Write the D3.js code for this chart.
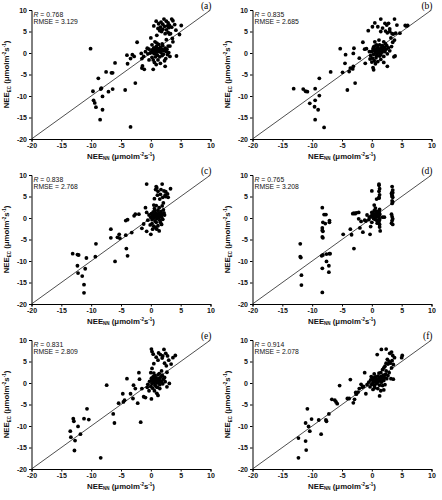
<!DOCTYPE html>
<html><head><meta charset="utf-8">
<script src="https://cdn.jsdelivr.net/npm/d3@7"></script>
<style>body{margin:0;background:#fff}</style></head>
<body>
<script>
const panelLabels = ["(a)","(b)","(c)","(d)","(e)","(f)"];
const rValues = ["0.768","0.835","0.838","0.765","0.831","0.914"];
const rmseValues = ["3.129","2.685","2.768","3.208","2.809","2.078"];
const axisTicks = [-20,-15,-10,-5,0,5,10];
const yTicks = [-20,-15,-10,-5,0,5,10];

const panelA = [[-10.1,1.0],[-6.0,-2.3],[-7.5,-4.4],[-6.6,-4.6],[-6.4,-4.6],[-8.8,-5.9],[-9.7,-8.9],[-8.3,-8.2],[-8.4,-8.4],[-7.1,-9.0],[-6.4,-8.4],[-8.1,-10.1],[-9.6,-11.0],[-9.4,-11.6],[-9.2,-12.6],[-8.1,-13.2],[-8.5,-15.5],[-3.4,-17.2],[-4.3,-8.6],[-2.6,-7.0],[-4.0,-0.5],[-3.9,-2.5],[-3.1,-0.4],[-3.4,-1.3],[-2.3,2.5],[-1.6,-0.1],[-1.5,-1.3],[-1.4,-3.0],[-1.5,-3.5],[-1.1,-3.8],[-2.8,-0.8],[-1.2,-0.8],[-0.9,0.3],[-0.6,1.1],[-0.3,0.9],
[0.1,0.3],[0.3,0.8],[0.5,1.2],[0.6,-0.2],[0.8,0.5],[0.9,1.5],[1.0,0.2],[1.1,-0.5],[1.2,1.0],[1.3,2.0],[1.4,0.6],[1.5,-0.9],[1.6,1.3],[1.7,0.1],[1.8,0.9],[2.0,1.7],[2.1,-0.3],[2.2,0.5],[2.4,1.1],[2.5,-1.3],[2.6,0.3],[2.7,0.9],[2.8,-0.4],[3.0,0.1],[3.2,-0.8],[0.2,-1.0],[0.4,-1.6],[0.6,-2.2],[0.0,3.5],[0.7,2.6],[1.0,2.3],[1.9,2.1],[0.4,-3.8],[0.9,-2.7],[1.6,-2.4],[2.4,-3.1],[4.3,-0.7],[3.2,1.6],[2.6,3.1],[-0.3,-1.6],[-0.1,0.0],[0.5,0.0],[0.8,-0.9],[1.3,0.4],[2.9,1.6],[3.7,2.6],[0.2,1.9],[1.2,-1.6],[2.0,0.7],[-0.5,-0.2],[1.0,1.0],[1.5,0.4],[2.3,-1.8],[0.7,0.9],[1.9,-0.6],[0.3,0.2],
[0.9,7.4],[1.3,6.8],[1.6,6.0],[2.0,5.5],[1.8,5.0],[2.3,6.2],[2.6,5.4],[2.9,4.8],[3.1,6.5],[3.5,7.9],[2.2,7.9],[2.6,7.4],[2.9,7.0],[3.7,7.5],[3.5,6.0],[4.0,6.6],[4.2,5.3],[4.8,4.3],[5.1,6.4],[1.2,5.7],[1.5,5.2],[2.4,4.5],[3.1,4.4],[1.0,4.1],[3.6,3.4],[0.5,6.3],[2.0,6.7],[3.0,5.9],[1.7,7.2],[3.3,4.5],[2.8,6.3]];

const panelB = [[-13.1,-8.3],[-11.5,-8.4],[-11.1,-8.9],[-10.8,-9.0],[-10.4,-11.7],[-9.5,-8.3],[-8.8,-5.9],[-8.8,-9.9],[-9.5,-11.0],[-9.6,-12.5],[-9.0,-13.2],[-9.5,-15.5],[-8.0,-17.3],[-6.9,-4.4],[-5.3,1.0],[-4.9,-4.5],[-4.5,-2.4],[-4.4,-0.4],[-4.1,-8.6],[-3.8,-4.3],[-3.6,-3.5],[-3.2,-3.7],[-3.1,-3.1],[-3.1,-0.1],[-3.0,1.1],[-2.8,-7.0],[-2.1,-1.2],[-1.5,2.5],[-1.2,0.9],[-0.9,1.0],[-1.1,-2.4],[-0.6,5.2],
[0.5,7.0],[1.5,7.9],[2.2,6.9],[2.5,6.5],[3.0,5.6],[3.8,7.9],[4.2,6.5],[5.6,6.4],[6.0,6.4],[5.8,6.3],[2.6,4.7],[3.4,4.5],[3.6,4.4],[4.0,4.6],[1.0,6.1],[1.8,5.8],[2.3,5.1],[3.2,3.5],[1.5,5.0],[2.8,6.9],[0.1,6.1],[4.7,4.6],[3.8,3.0],[3.5,2.5],[3.0,5.0],
[3.9,-0.7],[3.7,-0.9],[2.6,-3.1],[0.3,-3.9],[0.2,-3.4],[0.0,-2.1],[-0.2,-0.6],[0.0,0.4],[0.2,1.0],[0.3,-0.3],[0.4,0.6],[0.5,1.6],[0.6,0.1],[0.7,0.9],[0.8,-0.6],[0.9,0.4],[1.0,1.3],[1.1,0.0],[1.2,0.8],[1.3,1.9],[1.4,0.5],[1.5,-0.4],[1.6,1.1],[1.7,0.2],[1.8,1.6],[1.9,0.7],[2.0,-0.8],[2.1,1.3],[2.2,0.3],[2.3,2.1],[2.4,0.9],[2.6,-0.2],[2.8,1.2],[3.0,0.5],[3.3,1.5],[0.1,-1.2],[0.4,-1.8],[0.7,-1.1],[1.0,-2.0],[1.5,-1.5],[2.0,-2.2],[0.5,2.6],[1.2,3.0],[2.0,2.6],[0.8,1.9],[-0.4,0.3],[0.6,-2.5],[1.3,-0.7],[0.3,1.4],[1.7,1.7],[2.5,1.7],[0.9,0.0],[-0.3,-1.4]];

const panelC = [[-13.1,-8.3],[-12.3,-8.5],[-12.1,-8.6],[-12.3,-11.1],[-12.2,-12.8],[-11.5,-13.5],[-11.0,-11.8],[-10.8,-9.3],[-11.2,-15.5],[-11.2,-17.4],[-9.3,-9.0],[-9.2,-6.0],[-6.7,-2.6],[-6.7,-4.6],[-6.0,-10.1],[-5.6,-4.5],[-5.2,-4.7],[-5.3,-3.8],[-4.2,-4.0],[-4.2,-0.6],[-3.9,-0.4],[-4.1,-7.1],[-3.9,-8.8],[-3.2,-3.4],[-2.8,0.5],[-2.6,0.9],[-2.0,0.9],[-1.5,-2.4],[-1.2,-1.4],[-0.7,7.9],[-0.9,2.4],[-0.7,1.3],[-0.7,-3.1],[0.0,-3.8],
[0.9,7.3],[1.9,7.9],[0.8,6.6],[1.2,6.2],[2.2,6.3],[2.5,6.1],[3.3,6.8],[1.6,5.5],[2.0,4.8],[2.9,4.8],[0.6,4.5],[1.1,5.3],[2.4,5.3],[2.8,5.6],[1.5,4.4],[1.9,2.8],[2.1,3.5],[0.5,3.0],[0.9,2.9],[1.7,6.6],[1.0,7.0],[2.5,5.0],
[2.3,0.7],[1.8,-1.5],[1.4,-3.0],[0.8,-2.2],[-0.3,0.7],[0.0,0.2],[0.1,1.0],[0.2,-0.4],[0.3,0.5],[0.4,1.4],[0.5,0.0],[0.6,0.8],[0.7,-0.7],[0.8,0.3],[0.9,1.1],[1.0,-0.2],[1.1,0.6],[1.2,1.8],[1.3,0.1],[1.4,1.0],[1.5,-0.5],[1.6,0.5],[1.7,1.5],[1.8,0.2],[1.9,0.9],[2.0,-0.3],[2.1,1.9],[0.2,-1.3],[0.5,-1.9],[0.9,-1.0],[1.2,-1.8],[0.6,2.2],[1.4,2.4],[-0.5,-0.5],[0.3,-2.6],[1.0,-2.6],[0.7,1.7],[1.6,-1.0],[0.4,0.1],[1.1,0.9],[2.2,1.2],[-0.1,-1.6]];

const panelD = [[-12.0,-6.0],[-12.0,-9.0],[-11.9,-9.2],[-11.8,-13.3],[-11.8,-15.6],
[-8.3,2.4],[-8.0,0.8],[-8.2,-1.0],[-8.3,-2.3],[-8.3,-2.9],[-8.2,-3.1],[-8.3,-4.4],[-8.2,-4.6],[-8.2,-8.6],[-8.4,-8.8],[-8.3,-11.7],[-8.3,-17.3],[-7.7,0.8],[-7.8,-1.3],
[-7.1,-0.6],[-7.1,-1.0],[-7.1,-8.3],[-7.0,-8.3],[-7.2,-11.1],[-7.2,-12.6],[-7.6,-8.4],[-7.6,-10.1],
[-4.8,-3.8],[-3.6,-2.6],[-3.4,-3.9],[-3.0,-7.1],[-3.2,1.0],[-3.0,1.1],[-2.8,1.0],[-2.6,1.2],[-2.2,-0.2],[-2.0,-2.3],[-2.2,1.3],[-1.8,-0.8],[-1.5,-3.3],[-1.2,-0.5],[-1.0,-0.7],[-0.8,0.7],[-0.5,-0.4],[-0.3,-3.8],[-0.2,-2.0],[0.0,6.3],[-0.1,0.5],[0.0,1.3],
[1.2,7.9],[1.2,7.6],[1.3,6.8],[1.2,6.2],[1.3,5.4],[1.2,4.8],[1.2,4.6],[1.3,2.0],[1.2,1.6],[1.3,1.0],[1.2,0.5],[1.2,0.1],[1.3,-0.4],[1.2,-0.9],[1.3,-1.5],[1.4,-3.0],[1.3,-2.1],[1.3,0.8],[1.2,1.4],
[0.3,0.6],[0.4,0.3],[0.5,0.9],[0.6,0.2],[0.7,0.7],[0.8,0.4],[0.9,1.1],[0.5,-0.3],[0.3,-0.1],[1.0,0.8],[0.7,1.6],[0.8,-0.5],[0.6,2.3],[0.4,3.0],[0.9,-1.2],[0.2,1.1],[0.5,0.5],[0.6,0.9],[0.9,0.3],[1.0,1.4],[0.4,1.7],[0.0,-1.0],[0.8,4.4],[2.1,0.2],[1.8,0.2],[-0.4,0.2],[0.1,0.6],[0.2,0.2],
[3.4,7.3],[3.5,6.5],[3.4,6.0],[3.3,5.7],[3.4,5.3],[3.5,4.8],[3.4,4.0],[3.5,3.7],[3.4,3.4],[3.3,0.9],[3.4,0.3],[3.5,-0.2],[3.4,-0.6],[3.3,-1.2],[3.5,-1.5],[3.4,5.0],[3.5,5.9]];

const panelE = [[-13.5,-11.2],[-13.4,-12.6],[-12.7,-13.4],[-12.8,-15.7],[-13.0,-8.3],[-12.9,-8.9],[-12.2,-10.1],[-11.8,-11.9],[-11.2,-8.3],[-10.7,-6.0],[-10.4,-8.5],[-7.4,-0.5],[-6.3,-7.2],[-6.1,-9.3],[-8.4,-17.4],[-5.4,-4.7],[-4.7,-2.5],[-4.6,-4.4],[-4.4,-4.0],[-4.0,1.0],[-3.4,-2.5],[-3.0,-3.6],[-2.9,-0.5],[-2.6,-1.3],[-2.2,-4.7],[-2.0,2.4],[-1.9,0.9],[-1.7,-9.1],[-1.5,-1.3],[-1.2,-3.2],[-0.9,-3.4],[-0.6,-1.0],[-0.3,-1.8],[0.1,-3.7],
[0.1,7.9],[0.2,7.3],[0.4,6.7],[1.3,7.0],[1.6,6.6],[2.2,7.8],[2.5,6.9],[2.8,6.3],[3.0,5.3],[3.7,5.9],[4.1,6.4],[1.9,5.8],[1.2,5.3],[0.5,4.5],[2.3,4.6],[2.6,4.0],[0.2,3.4],[0.0,2.4],[1.8,2.8],[3.4,4.4],[0.9,6.0],[2.0,6.3],
[3.1,-0.1],[2.7,-0.9],[1.5,-1.3],[1.0,-2.4],[1.2,-2.9],[2.3,1.3],[2.7,2.5],[-0.2,0.4],[0.1,1.1],[0.2,-0.2],[0.3,0.6],[0.4,1.5],[0.5,0.1],[0.6,0.9],[0.7,-0.5],[0.8,0.4],[0.9,1.2],[1.0,0.0],[1.1,0.7],[1.2,1.9],[1.3,0.2],[1.4,1.0],[1.5,-0.4],[1.6,0.5],[1.7,1.4],[1.8,0.3],[2.0,-0.2],[2.1,0.9],[0.3,-1.2],[0.6,-1.8],[0.9,-0.9],[0.5,2.3],[1.4,2.2],[-0.5,-0.3],[0.7,1.7],[1.9,1.8],[0.4,0.3],[0.8,1.0],[1.1,-1.0],[2.4,0.3],[0.0,-0.8],[0.6,0.5],[1.0,0.5],[0.2,0.8]];

const panelF = [[-12.3,-17.4],[-12.3,-12.8],[-11.1,-13.5],[-11.0,-15.6],[-11.1,-9.3],[-10.8,-6.0],[-10.6,-10.1],[-10.4,-11.2],[-10.1,-8.4],[-8.9,-8.6],[-8.5,-11.9],[-7.7,-8.6],[-7.6,-8.9],[-7.2,-7.2],[-6.7,-3.8],[-6.2,-4.0],[-6.0,-4.4],[-5.8,-4.8],[-5.4,-0.6],[-4.1,-3.6],[-3.8,-3.6],[-3.6,0.8],[-3.1,-4.6],[-2.9,-3.8],[-2.7,-2.2],[-2.6,-2.6],[-2.3,-2.1],[-2.1,-1.3],[-1.8,-0.3],[-1.6,-1.0],[-1.2,2.4],[-1.0,-2.5],[-1.4,-0.8],[-0.8,-0.4],
[0.9,6.6],[1.6,7.8],[2.4,7.9],[3.0,6.9],[3.3,7.2],[3.5,6.4],[3.8,5.9],[5.1,6.4],[5.0,5.9],[2.6,5.5],[2.9,5.0],[2.4,4.6],[3.1,4.6],[3.6,4.3],[2.2,3.9],[1.8,3.1],[2.0,3.5],[1.5,2.4],[3.3,3.5],[3.6,0.9],[3.2,1.0],[3.4,5.2],[2.7,4.4],[1.3,-3.0],
[-0.5,0.2],[-0.3,-0.9],[-0.2,0.7],[0.0,-0.3],[0.1,0.9],[0.2,0.1],[0.3,1.2],[0.4,-0.6],[0.5,0.5],[0.6,1.4],[0.7,-0.2],[0.8,0.8],[0.9,0.0],[1.0,1.6],[1.1,0.4],[1.2,1.1],[1.3,-0.5],[1.4,0.7],[1.5,1.5],[1.6,0.2],[1.7,1.0],[1.8,-0.6],[1.9,1.8],[2.0,0.6],[2.1,1.3],[2.2,-0.4],[2.3,2.0],[2.5,1.0],[2.7,1.7],[2.9,2.4],[0.2,-1.5],[0.5,-1.1],[1.0,-1.3],[1.5,-1.8],[2.0,-1.6],[-0.1,1.5],[0.4,2.1],[0.7,0.4],[1.2,2.3],[0.3,0.3],[1.6,1.2],[2.4,2.8]];

const panels = [panelA, panelB, panelC, panelD, panelE, panelF];

const svg = d3.select("body").append("svg").attr("width", 442).attr("height", 500)
  .style("font-family", "'Liberation Sans', Arial, sans-serif");
const lefts = [31.5, 252.5];
const tops = [10, 175, 340];
const W = 179, H = 129;

panels.forEach((pts, i) => {
  const col = i % 2, row = Math.floor(i / 2);
  const g = svg.append("g").attr("transform", `translate(${lefts[col]},${tops[row]})`);
  const x = d3.scaleLinear().domain([-20, 10]).range([0, W]);
  const y = d3.scaleLinear().domain([-20, 10]).range([H, 0]);

  const xa = g.append("g").attr("transform", `translate(0,${H})`)
    .call(d3.axisBottom(x).tickValues(axisTicks).tickSize(2.5).tickPadding(2).tickFormat(d => String(d)));
  const ya = g.append("g")
    .call(d3.axisLeft(y).tickValues(yTicks).tickSize(2.5).tickPadding(2).tickFormat(d => String(d)));
  [xa, ya].forEach(a => {
    a.select(".domain").attr("stroke", "#000").attr("stroke-width", 1);
    a.selectAll(".tick line").attr("stroke", "#000");
    a.selectAll("text").attr("font-size", 7).attr("font-weight", "bold")
      .attr("font-family", "'Liberation Sans', Arial, sans-serif").attr("fill", "#111");
  });

  // 1:1 line
  g.append("line")
    .attr("x1", x(-20)).attr("y1", y(-20)).attr("x2", x(10)).attr("y2", y(10))
    .attr("stroke", "#222").attr("stroke-width", 0.8);

  g.selectAll("circle.pt").data(pts).enter().append("circle")
    .attr("class", "pt")
    .attr("cx", d => x(d[0])).attr("cy", d => y(d[1])).attr("r", 1.9).attr("fill", "#000");

  // stats text
  const t1 = g.append("text").attr("x", 2).attr("y", 7).attr("font-size", 6.8).attr("fill", "#111");
  t1.append("tspan").attr("font-style", "italic").text("R");
  t1.append("tspan").text(" = " + rValues[i]);
  g.append("text").attr("x", 2).attr("y", 14).attr("font-size", 6.8).attr("fill", "#111")
    .text("RMSE = " + rmseValues[i]);

  // panel label
  g.append("text").attr("x", W + 1).attr("y", -1).attr("text-anchor", "end")
    .attr("font-family", "'Liberation Serif', 'Times New Roman', serif").attr("font-size", 9.5)
    .text(panelLabels[i]);

  // x title
  const xt = g.append("text").attr("x", W / 2).attr("y", H + 19.5).attr("text-anchor", "middle")
    .attr("font-size", 7.8).attr("font-weight", "bold").attr("fill", "#111");
  xt.append("tspan").text("NEE");
  xt.append("tspan").attr("font-size", 4.5).attr("dy", 1.5).text("NN");
  xt.append("tspan").attr("dy", -1.5).text(" (μmolm");
  xt.append("tspan").attr("font-size", 4.5).attr("dy", -3).text("-2");
  xt.append("tspan").attr("dy", 3).text("s");
  xt.append("tspan").attr("font-size", 4.5).attr("dy", -3).text("-1");
  xt.append("tspan").attr("dy", 3).text(")");

  // y title
  const yt = g.append("text").attr("transform", `translate(-22.5,${H / 2}) rotate(-90)`)
    .attr("text-anchor", "middle").attr("font-size", 7.8).attr("font-weight", "bold").attr("fill", "#111");
  yt.append("tspan").text("NEE");
  yt.append("tspan").attr("font-size", 4.5).attr("dy", 1.5).text("EC");
  yt.append("tspan").attr("dy", -1.5).text(" (μmolm");
  yt.append("tspan").attr("font-size", 4.5).attr("dy", -3).text("-2");
  yt.append("tspan").attr("dy", 3).text("s");
  yt.append("tspan").attr("font-size", 4.5).attr("dy", -3).text("-1");
  yt.append("tspan").attr("dy", 3).text(")");
});
</script>
</body></html>
